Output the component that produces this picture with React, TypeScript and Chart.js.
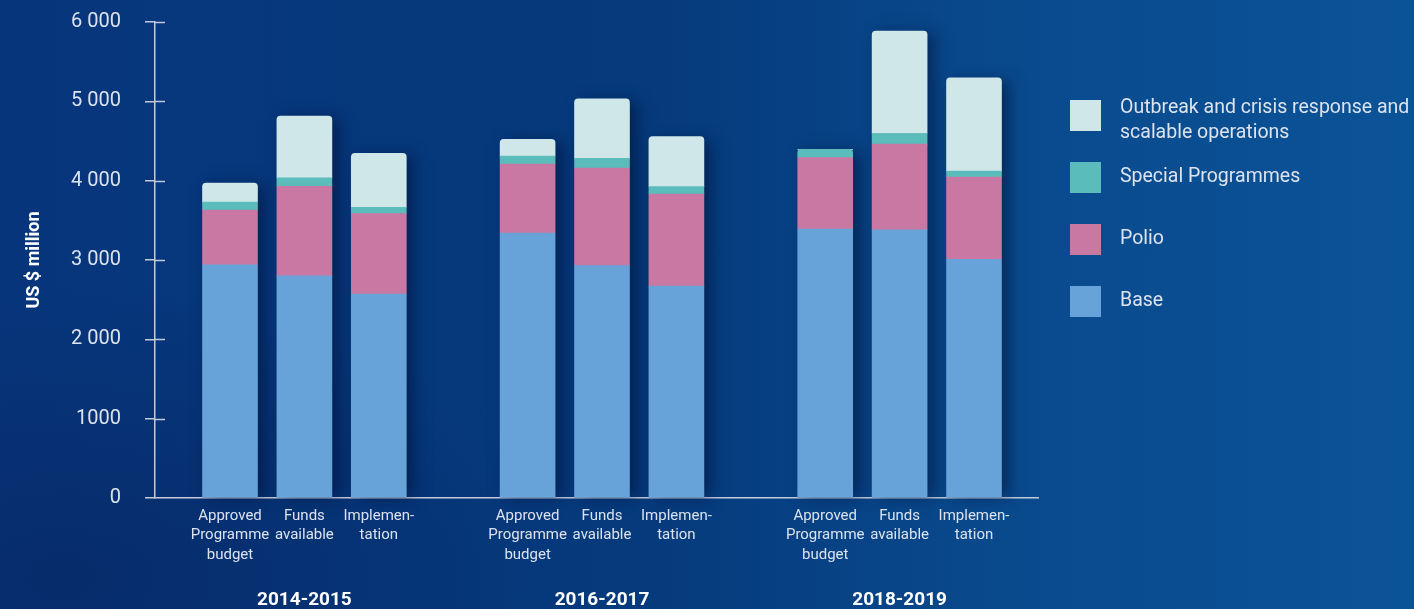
import React, { useEffect, useRef } from "react";
import { Chart, registerables } from "chart.js";

Chart.register(...registerables);

// ---- data ----
const periods = ["2014-2015", "2016-2017", "2018-2019"];
const barLabels = [
  ["Approved", "Programme", "budget"],
  ["Funds", "available"],
  ["Implemen-", "tation"],
];
const base = [2940, 2800, 2570, 3340, 2930, 2670, 3390, 3380, 3010];
const polio = [690, 1130, 1015, 870, 1230, 1160, 900, 1080, 1035];
const special = [100, 105, 80, 100, 120, 95, 105, 135, 75];
const outbreak = [240, 780, 680, 210, 750, 630, 0, 1290, 1175];
const yTickValues = [0, 1000, 2000, 3000, 4000, 5000, 6000];
const yTickLabels = ["0", "1000", "2 000", "3 000", "4 000", "5 000", "6 000"];
const seriesNames = ["Base", "Polio", "Special Programmes", "Outbreak and crisis response and scalable operations"];
const legendLines = [
  ["Outbreak and crisis response and", "scalable operations"],
  ["Special Programmes"],
  ["Polio"],
  ["Base"],
];
const seriesColors = ["#67a3d8", "#c878a2", "#5bbcbc", "#cfe7e8"];

// ---- derived layout helpers ----
const barsPerGroup = barLabels.length;
const slotsPerGroup = barsPerGroup + 1;
const slotOf = (i: number) => Math.floor(i / barsPerGroup) * slotsPerGroup + (i % barsPerGroup);
const barSlots = base.map((_, i) => slotOf(i));
const groupSlots = periods.map((_, g) => g * slotsPerGroup + (barsPerGroup - 1) / 2);
const seriesValues = [base, polio, special, outbreak];

const FONT = "Roboto, 'Noto Sans', sans-serif";
const TEXT = "#dde3ee";
const AXIS = "#c3cbdb";
const X_MIN = -1.008;
const X_MAX = 10.86;

const topIndexAt = (i: number) => {
  let top = 0;
  seriesValues.forEach((s, d) => {
    if (s[i] > 0) top = d;
  });
  return top;
};

const innerTicks = {
  id: "innerTicks",
  afterDraw(chart: any) {
    const { ctx, chartArea, scales } = chart;
    const y = scales.y;
    ctx.save();
    ctx.strokeStyle = AXIS;
    ctx.lineWidth = 1.5;
    y.ticks.forEach((t: any) => {
      if (t.value === 0) return;
      const py = Math.round(y.getPixelForValue(t.value)) + 0.5;
      ctx.beginPath();
      ctx.moveTo(chartArea.left, py);
      ctx.lineTo(chartArea.left + 10, py);
      ctx.stroke();
    });
    ctx.restore();
  },
};

const barShadow = {
  id: "barShadow",
  beforeDatasetsDraw(chart: any) {
    const { ctx } = chart;
    const metas = chart.getSortedVisibleDatasetMetas();
    if (!metas.length) return;
    ctx.save();
    ctx.shadowColor = "rgba(0, 12, 45, 0.5)";
    ctx.shadowBlur = 14;
    ctx.shadowOffsetX = 7;
    ctx.shadowOffsetY = 0;
    ctx.fillStyle = "rgba(10, 40, 90, 1)";
    metas[0].data.forEach((el: any, i: number) => {
      const top = metas[topIndexAt(i)].data[i];
      const w = el.width;
      ctx.fillRect(el.x - w / 2, top.y + 3, w, el.base - top.y - 3);
    });
    ctx.restore();
  },
};

const sideLegend = {
  id: "sideLegend",
  afterDraw(chart: any) {
    const { ctx } = chart;
    const boxX = 1070;
    const boxTop = 100;
    const box = 31;
    const rowGap = 62;
    const lineH = 25;
    ctx.save();
    ctx.font = `19.5px ${FONT}`;
    ctx.textBaseline = "middle";
    ctx.textAlign = "left";
    legendLines.forEach((lines, r) => {
      const d = seriesValues.length - 1 - r;
      const y0 = boxTop + r * rowGap;
      ctx.fillStyle = seriesColors[d];
      ctx.fillRect(boxX, y0, box, box);
      ctx.fillStyle = TEXT;
      const start = lines.length > 1 ? y0 + 8 : y0 + box / 2;
      lines.forEach((ln, k) => ctx.fillText(ln, boxX + 50, start + k * lineH));
    });
    ctx.restore();
  },
};

export default function App() {
  const ref = useRef<HTMLCanvasElement | null>(null);

  useEffect(() => {
    document.body.style.margin = "0";
    const canvas = ref.current;
    if (!canvas) return;
    const datasets = seriesValues.map((vals, d) => ({
      label: seriesNames[d],
      data: vals.map((v, i) => ({ x: barSlots[i], y: v })),
      backgroundColor: seriesColors[d],
      borderWidth: 0,
      barThickness: 55,
      borderSkipped: "start" as const,
      borderRadius: (c: any) =>
        c.datasetIndex === topIndexAt(c.dataIndex)
          ? { topLeft: 4, topRight: 4, bottomLeft: 0, bottomRight: 0 }
          : 0,
    }));

    const chart = new Chart(canvas, {
      type: "bar",
      data: { datasets },
      plugins: [barShadow, innerTicks, sideLegend],
      options: {
        animation: false,
        responsive: false,
        devicePixelRatio: 1,
        layout: { padding: { top: 22, left: 0, right: 376, bottom: 0 } },
        plugins: { legend: { display: false }, tooltip: { enabled: false } },
        scales: {
          x: {
            type: "linear",
            stacked: true,
            offset: false,
            min: X_MIN,
            max: X_MAX,
            position: "bottom",
            weight: 0,
            afterBuildTicks: (s: any) => {
              s.ticks = barSlots.map((v) => ({ value: v }));
            },
            afterFit: (s: any) => {
              s.height = 70;
              s.paddingLeft = 0;
              s.paddingRight = 0;
            },
            grid: { display: false, drawTicks: false },
            border: { display: true, color: AXIS, width: 1.5 },
            ticks: {
              autoSkip: false,
              maxRotation: 0,
              padding: 8,
              color: TEXT,
              font: { family: FONT, size: 15, lineHeight: 1.3 },
              callback: (v: any) => {
                const i = barSlots.indexOf(Number(v));
                return i >= 0 ? barLabels[i % barsPerGroup] : "";
              },
            },
          },
          g: {
            type: "linear",
            axis: "x",
            offset: false,
            min: X_MIN,
            max: X_MAX,
            position: "bottom",
            weight: 1,
            afterBuildTicks: (s: any) => {
              s.ticks = groupSlots.map((v) => ({ value: v }));
            },
            afterFit: (s: any) => {
              s.height = 41;
              s.paddingLeft = 0;
              s.paddingRight = 0;
            },
            grid: { display: false, drawTicks: false },
            border: { display: false },
            ticks: {
              autoSkip: false,
              maxRotation: 0,
              padding: 21,
              color: "#ffffff",
              font: { family: FONT, size: 19, weight: "bold" },
              callback: (v: any) => {
                const g = groupSlots.indexOf(Number(v));
                return g >= 0 ? periods[g] : "";
              },
            },
          },
          y: {
            type: "linear",
            stacked: true,
            min: 0,
            max: 6000,
            afterBuildTicks: (s: any) => {
              s.ticks = yTickValues.map((v) => ({ value: v }));
            },
            afterFit: (s: any) => {
              s.width = 155;
              s.paddingTop = 0;
              s.paddingBottom = 0;
            },
            grid: { drawOnChartArea: false, drawTicks: true, tickLength: 10, color: AXIS, lineWidth: 1.5 },
            border: { display: true, color: AXIS, width: 1.5 },
            ticks: {
              padding: 24,
              color: TEXT,
              font: { family: FONT, size: 20 },
              callback: (v: any) => {
                const i = yTickValues.indexOf(Number(v));
                return i >= 0 ? yTickLabels[i] : "";
              },
            },
            title: {
              display: true,
              text: "US $ million",
              color: "#ffffff",
              font: { family: FONT, size: 18, weight: "bold" },
              padding: { top: 24, bottom: 0 },
            },
          },
        },
      },
    });
    return () => chart.destroy();
  }, []);

  return (
    <div
      style={{
        position: "fixed",
        left: 0,
        top: 0,
        width: 1414,
        height: 609,
        background:
          "radial-gradient(ellipse 45% 60% at 5% 95%, rgba(6,40,100,0.7), rgba(6,40,100,0) 80%), linear-gradient(90deg, #07357c 0%, #053a7c 45%, #094a8d 72%, #0b5397 100%)",
      }}
    >
      <canvas ref={ref} width={1414} height={609} style={{ width: 1414, height: 609, display: "block" }} />
    </div>
  );
}
